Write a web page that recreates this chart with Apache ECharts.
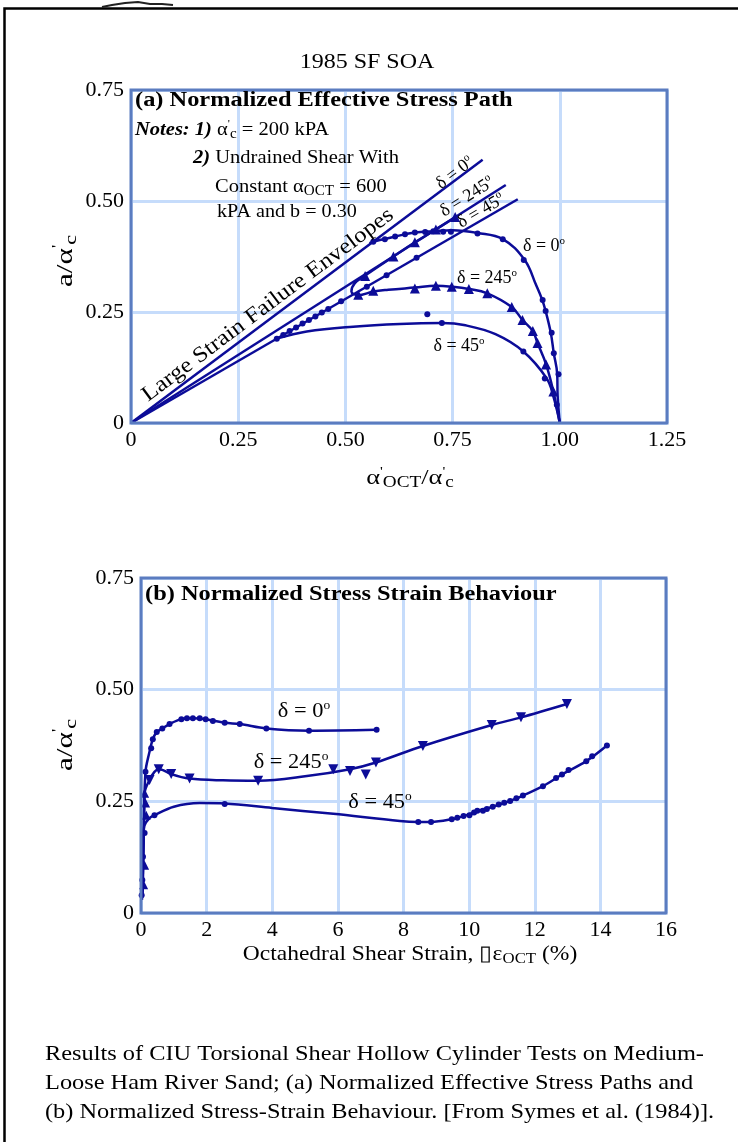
<!DOCTYPE html>
<html>
<head>
<meta charset="utf-8">
<script src="https://cdn.jsdelivr.net/npm/echarts@6/dist/echarts.min.js"></script>
<style>
  html, body { margin: 0; padding: 0; background: #fff; }
  #chart { width: 738px; height: 1142px; }
</style>
</head>
<body>
<div id="chart"></div>
<script>
// ---- (a) effective stress path : x = a'oct/a'c , y = a/a'c ----
const envD0 = [[0, 0], [0.82, 0.593]];
const envD245 = [[0, 0], [0.874, 0.536]];
const envD45 = [[0, 0], [0.902, 0.504]];

const pathD0 = [[1.0, 0], [0.995, 0.06], [0.994, 0.11], [0.986, 0.157], [0.979, 0.203], [0.967, 0.252],
  [0.958, 0.28], [0.945, 0.31], [0.918, 0.367], [0.867, 0.414], [0.808, 0.428], [0.75, 0.434],
  [0.705, 0.432], [0.662, 0.429], [0.616, 0.42], [0.58, 0.412], [0.556, 0.405]];
const ptsD0 = [[0.993, 0.041], [0.997, 0.11], [0.986, 0.157], [0.981, 0.203], [0.967, 0.252], [0.960, 0.277],
  [0.916, 0.367], [0.867, 0.414], [0.808, 0.427], [0.746, 0.431], [0.728, 0.431], [0.705, 0.432],
  [0.686, 0.430], [0.662, 0.429], [0.639, 0.425], [0.616, 0.420], [0.592, 0.414], [0.565, 0.408]];

const pathD245 = [[1.0, 0], [0.985, 0.071], [0.968, 0.132], [0.948, 0.18], [0.937, 0.207], [0.913, 0.232],
  [0.888, 0.261], [0.831, 0.292], [0.788, 0.302], [0.748, 0.307], [0.711, 0.309], [0.662, 0.305],
  [0.6, 0.30], [0.565, 0.296], [0.53, 0.288], [0.514, 0.296], [0.522, 0.315], [0.546, 0.332],
  [0.612, 0.375], [0.662, 0.407], [0.711, 0.436], [0.757, 0.464]];
const ptsD245 = [[0.985, 0.071], [0.968, 0.132], [0.948, 0.180], [0.937, 0.207], [0.913, 0.232], [0.888, 0.261],
  [0.831, 0.292], [0.788, 0.302], [0.748, 0.307], [0.711, 0.309], [0.662, 0.303], [0.565, 0.298],
  [0.53, 0.289], [0.546, 0.331], [0.612, 0.375], [0.662, 0.407], [0.711, 0.436], [0.756, 0.464]];

const pathD45 = [[1.0, 0], [0.985, 0.06], [0.969, 0.101], [0.915, 0.161], [0.85, 0.2], [0.78, 0.22],
  [0.725, 0.225], [0.627, 0.223], [0.518, 0.217], [0.41, 0.206], [0.34, 0.19]];
const ptsD45 = [[0.725, 0.225], [0.915, 0.161], [0.965, 0.10], [0.691, 0.245], [0.34, 0.19], [0.355, 0.198],
  [0.37, 0.207], [0.385, 0.215], [0.40, 0.224], [0.415, 0.232], [0.43, 0.240], [0.445, 0.249],
  [0.46, 0.257], [0.49, 0.274], [0.55, 0.307], [0.596, 0.333], [0.666, 0.372]];

// ---- (b) stress strain : x = octahedral shear strain (%), y = a/a'c ----
const strainD0 = [[0.03, 0.03], [0.06, 0.1], [0.09, 0.2], [0.137, 0.316], [0.25, 0.358], [0.36, 0.389],
  [0.48, 0.405], [0.65, 0.413], [0.87, 0.423], [1.23, 0.434], [1.58, 0.436], [1.97, 0.434], [2.55, 0.426],
  [3.01, 0.423], [3.82, 0.413], [5.12, 0.408], [7.18, 0.41]];
const strainPtsD0 = [[0.137, 0.316], [0.31, 0.369], [0.36, 0.389], [0.48, 0.405], [0.65, 0.413], [0.87, 0.423],
  [1.23, 0.434], [1.4, 0.436], [1.58, 0.436], [1.79, 0.436], [1.97, 0.434], [2.19, 0.430], [2.55, 0.426],
  [3.01, 0.423], [3.82, 0.413], [5.12, 0.408], [7.18, 0.41]];

const strainD245 = [[0.05, 0.04], [0.08, 0.15], [0.11, 0.268], [0.26, 0.298], [0.41, 0.316], [0.54, 0.322],
  [0.67, 0.320], [0.92, 0.311], [1.48, 0.301], [2.5, 0.297], [3.57, 0.296], [5.0, 0.306], [6.37, 0.322],
  [7.16, 0.337], [8.59, 0.374], [10.69, 0.421], [11.58, 0.438], [12.98, 0.468]];
const strainPtsD245Rise = [[0.08, 0.063], [0.11, 0.107], [0.16, 0.219], [0.14, 0.246], [0.11, 0.268]];
const strainPtsD245 = [[0.26, 0.298], [0.54, 0.322], [0.92, 0.311], [1.48, 0.301], [3.57, 0.296],
  [5.86, 0.322], [6.37, 0.318], [6.85, 0.31], [7.16, 0.337], [8.59, 0.374], [10.69, 0.421],
  [11.58, 0.438], [12.98, 0.468]];

const strainD45 = [[0.02, 0.03], [0.04, 0.1], [0.06, 0.16], [0.1, 0.195], [0.25, 0.212], [0.41, 0.219],
  [1.0, 0.238], [1.79, 0.246], [2.55, 0.245], [4.0, 0.235], [5.86, 0.222], [7.89, 0.206], [8.45, 0.204],
  [8.84, 0.204], [9.47, 0.210], [9.83, 0.217], [10.25, 0.228], [10.72, 0.238], [11.25, 0.251],
  [11.64, 0.263], [12.25, 0.284], [12.83, 0.310], [13.57, 0.340], [14.2, 0.375]];
const strainPtsD45 = [[0.02, 0.04], [0.04, 0.074], [0.06, 0.126], [0.11, 0.179], [0.41, 0.219], [2.55, 0.244],
  [8.45, 0.204], [8.84, 0.204], [9.47, 0.210], [9.64, 0.213], [9.83, 0.217], [10.01, 0.219], [10.15, 0.225],
  [10.25, 0.229], [10.42, 0.229], [10.54, 0.233], [10.72, 0.238], [10.9, 0.243], [11.07, 0.247],
  [11.25, 0.251], [11.44, 0.257], [11.64, 0.263], [12.25, 0.284], [12.65, 0.302], [12.83, 0.310],
  [13.03, 0.320], [13.57, 0.340], [13.75, 0.351], [14.2, 0.375]];

// tick labels
const stressTicks = ['0', '0.25', '0.50', '0.75', '1.00', '1.25'];
const ratioTicks = ['0', '0.25', '0.50', '0.75'];
const strainTicks = ['0', '2', '4', '6', '8', '10', '12', '14', '16'];

const FONT = '"Liberation Serif", "Times New Roman", serif';
const INK = '#0c0c98';
const GRIDLINE = '#c6dcfb';
const FRAME = '#5b7cc0';

const chart = echarts.init(document.getElementById('chart'));

const rich = (size) => ({
  n: { fontFamily: FONT, fontSize: size, fill: '#000' },
  b: { fontFamily: FONT, fontSize: size, fontWeight: 'bold', fill: '#000' },
  bi: { fontFamily: FONT, fontSize: size, fontWeight: 'bold', fontStyle: 'italic', fill: '#000' },
  sup: { fontFamily: FONT, fontSize: Math.round(size * 0.6), verticalAlign: 'top', lineHeight: Math.round(size * 0.6), fill: '#000' },
  sub: { fontFamily: FONT, fontSize: Math.round(size * 0.72), verticalAlign: 'bottom', lineHeight: Math.round(size * 0.72), fill: '#000' }
});

// text helper, sx = horizontal stretch to match the wide serif of the scan
function txt(x, y, text, size, opts) {
  opts = opts || {};
  return {
    type: 'text', x: x, y: y, rotation: opts.rot || 0, scaleX: opts.sx || 1, z: 50,
    style: {
      text: text, rich: rich(size), fontFamily: FONT, fontSize: size,
      fontWeight: opts.bold ? 'bold' : 'normal', fill: '#000',
      textAlign: opts.align || 'center', textVerticalAlign: 'middle',
      lineHeight: size * 1.2
    }
  };
}
const deg = (d) => d * Math.PI / 180;

const tickFmt = (list, step) => (v) => list[Math.round(v / step)];

function axisX(gi, max, interval, labels) {
  return {
    gridIndex: gi, type: 'value', min: 0, max: max, interval: interval,
    axisLine: { show: false }, axisTick: { show: false },
    splitLine: { show: true, lineStyle: { color: GRIDLINE, width: 3 } },
    axisLabel: { color: '#000', fontFamily: FONT, fontSize: 22, margin: 6, formatter: tickFmt(labels, interval) }
  };
}
function axisY(gi) {
  return {
    gridIndex: gi, type: 'value', min: 0, max: 0.75, interval: 0.25,
    axisLine: { show: false }, axisTick: { show: false },
    splitLine: { show: true, lineStyle: { color: GRIDLINE, width: 3 } },
    axisLabel: { color: '#000', fontFamily: FONT, fontSize: 22, margin: 7, formatter: tickFmt(ratioTicks, 0.25) }
  };
}

function curve(name, gi, data, smooth) {
  return {
    name: name, type: 'line', xAxisIndex: gi, yAxisIndex: gi, data: data,
    smooth: smooth, showSymbol: false, lineStyle: { color: INK, width: 2.5 }, z: 3
  };
}
function marks(name, gi, data, symbol, size, rot) {
  return {
    name: name, type: 'scatter', xAxisIndex: gi, yAxisIndex: gi, data: data,
    symbol: symbol, symbolSize: size, symbolRotate: rot || 0, itemStyle: { color: INK, opacity: 1 }, z: 4
  };
}

const option = {
  animation: false,
  backgroundColor: '#fff',
  grid: [
    { left: 131, top: 90, width: 536, height: 333, show: true, borderColor: FRAME, borderWidth: 3, z: 10 },
    { left: 141, top: 578, width: 525, height: 335, show: true, borderColor: FRAME, borderWidth: 3, z: 10 }
  ],
  xAxis: [axisX(0, 1.25, 0.25, stressTicks), axisX(1, 16, 2, strainTicks)],
  yAxis: [axisY(0), axisY(1)],
  series: [
    curve('env 0', 0, envD0, false),
    curve('env 245', 0, envD245, false),
    curve('env 45', 0, envD45, false),
    curve('path 0', 0, pathD0, 0.4),
    curve('path 245', 0, pathD245, 0.4),
    curve('path 45', 0, pathD45, 0.4),
    marks('pts 0', 0, ptsD0, 'circle', 6),
    marks('pts 245', 0, ptsD245, 'triangle', 10),
    marks('pts 45', 0, ptsD45, 'circle', 6),
    curve('strain 0', 1, strainD0, 0.35),
    curve('strain 245', 1, strainD245, 0.35),
    curve('strain 45', 1, strainD45, 0.35),
    marks('spts 0', 1, strainPtsD0, 'circle', 6),
    marks('spts 245 rise', 1, strainPtsD245Rise, 'triangle', 9),
    marks('spts 245', 1, strainPtsD245, 'triangle', 10, 180),
    marks('spts 45', 1, strainPtsD45, 'circle', 6)
  ],
  graphic: [
    // page frame
    { type: 'rect', shape: { x: 4.5, y: 8.5, width: 800, height: 1200 }, style: { fill: 'none', stroke: '#000', lineWidth: 2.5 }, z: 60 },
    { type: 'polyline', shape: { points: [[102, 7], [112, 5], [125, 3], [138, 2], [150, 4], [162, 4], [173, 5]] }, style: { stroke: '#222', lineWidth: 2, fill: 'none' }, z: 60 },
    txt(367, 63, '1985 SF SOA', 20, { sx: 1.2 }),

    // (a)
    txt(135, 101, '{b|(a) Normalized Effective Stress Path}', 20, { align: 'left', sx: 1.22 }),
    txt(135, 130, '{bi|Notes: 1)} {n|α}{sup|\'}{sub|c}{n| = 200 kPA}', 19, { align: 'left', sx: 1.08 }),
    txt(193, 158, '{bi|2)} {n|Undrained Shear With}', 19, { align: 'left', sx: 1.08 }),
    txt(215, 187, '{n|Constant α}{sub|OCT}{n| = 600}', 19, { align: 'left', sx: 1.08 }),
    txt(217, 212, '{n|kPA and b = 0.30}', 19, { align: 'left', sx: 1.06 }),
    txt(268, 305, 'Large Strain Failure Envelopes', 22, { rot: deg(36.8), sx: 1.125 }),
    txt(455, 173, '{n|δ = 0}{sup|o}', 18, { rot: deg(36.8) }),
    txt(467, 197, '{n|δ = 245}{sup|o}', 18, { rot: deg(32.4) }),
    txt(481, 211, '{n|δ = 45}{sup|o}', 18, { rot: deg(30.1) }),
    txt(544, 246, '{n|δ = 0}{sup|o}', 18),
    txt(487, 278, '{n|δ = 245}{sup|o}', 18),
    txt(459, 346, '{n|δ = 45}{sup|o}', 18),
    txt(66, 261, '{n|a/α}{sup|\'}{sub|c}', 24, { rot: deg(90), sx: 1.3 }),
    txt(410, 478, '{n|α}{sup|\'}{sub|OCT}{n|/α}{sup|\'}{sub|c}', 22, { sx: 1.2 }),

    // (b)
    txt(145, 595, '{b|(b) Normalized Stress Strain Behaviour}', 20, { align: 'left', sx: 1.22 }),
    txt(304, 712, '{n|δ = 0}{sup|o}', 20, { sx: 1.12 }),
    txt(291, 763, '{n|δ = 245}{sup|o}', 20, { sx: 1.12 }),
    txt(380, 803, '{n|δ = 45}{sup|o}', 20, { sx: 1.12 }),
    txt(66, 745, '{n|a/α}{sup|\'}{sub|c}', 24, { rot: deg(90), sx: 1.3 }),
    txt(410, 954, '{n|Octahedral Shear Strain, ▯ε}{sub|OCT}{n| (%)}', 21, { sx: 1.12 }),

    // caption
    txt(45, 1054, 'Results of CIU Torsional Shear Hollow Cylinder Tests on Medium-', 21, { align: 'left', sx: 1.16 }),
    txt(45, 1083, 'Loose Ham River Sand; (a) Normalized Effective Stress Paths and', 21, { align: 'left', sx: 1.16 }),
    txt(45, 1112, '(b) Normalized Stress-Strain Behaviour. [From Symes et al. (1984)].', 21, { align: 'left', sx: 1.16 })
  ]
};

chart.setOption(option);
</script>
</body>
</html>
